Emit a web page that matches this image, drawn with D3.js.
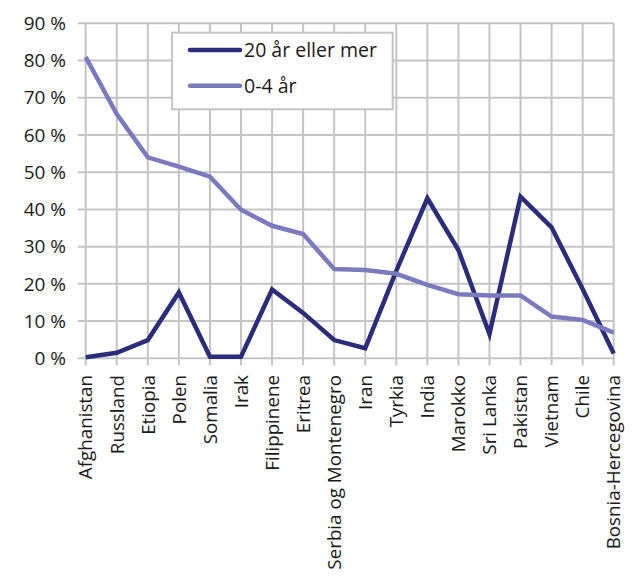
<!DOCTYPE html>
<html>
<head>
<meta charset="utf-8">
<script src="https://cdn.jsdelivr.net/npm/d3@7"></script>
<style>
  body { margin: 0; background: #fff; }
  text { font-family: "Open Sans", "Noto Sans", sans-serif; fill: #1a1a1a; }
</style>
</head>
<body>
<svg id="chart" width="634" height="583"></svg>
<script>
const countries = ["Afghanistan","Russland","Etiopia","Polen","Somalia","Irak","Filippinene","Eritrea",
  "Serbia og Montenegro","Iran","Tyrkia","India","Marokko","Sri Lanka","Pakistan","Vietnam","Chile","Bosnia-Hercegovina"];
const adults = [0.3, 1.5, 4.9, 17.7, 0.4, 0.4, 18.5, 12.2, 4.9, 2.7, 23.5, 43.0, 29.1, 6.5, 43.4, 35.2, 18.6, 1.3];
const kids   = [80.9, 65.6, 54.0, 51.5, 48.8, 39.9, 35.6, 33.4, 24.0, 23.7, 22.7, 19.7, 17.2, 16.9, 16.9, 11.2, 10.3, 6.9];
const yTicks = [0, 10, 20, 30, 40, 50, 60, 70, 80, 90];
const seriesNames = ["20 år eller mer", "0-4 år"];
const seriesColors = ["#2b2d7a", "#7a7bbd"];

const svg = d3.select("#chart");
const plotL = 85.7, plotR = 613.7, plotT = 23.3, plotB = 358.3;

const x = d3.scalePoint().domain(countries).range([plotL, plotR]);
const y = d3.scaleLinear().domain([0, 90]).range([plotB, plotT]);

// grid
const grid = svg.append("g").attr("stroke", "#c4c4c4").attr("stroke-width", 2);
grid.selectAll("line.h").data(yTicks).join("line").attr("class", "h")
  .attr("x1", plotL - 8).attr("x2", plotR)
  .attr("y1", d => y(d)).attr("y2", d => y(d));
grid.selectAll("line.v").data(countries).join("line").attr("class", "v")
  .attr("x1", d => x(d)).attr("x2", d => x(d))
  .attr("y1", plotT).attr("y2", plotB + 7);

// y labels
svg.append("g").selectAll("text").data(yTicks).join("text")
  .attr("x", 66).attr("y", d => y(d)).attr("dy", "0.35em")
  .attr("text-anchor", "end").attr("font-size", 19)
  .text(d => d + " %");

// x labels
svg.append("g").selectAll("text").data(countries).join("text")
  .attr("transform", d => `translate(${x(d)},375) rotate(-90)`)
  .attr("dy", "0.36em").attr("text-anchor", "end").attr("font-size", 18.8)
  .text(d => d);

// lines
const line = d3.line().x((d, i) => x(countries[i])).y(d => y(d));
[adults, kids].forEach((vals, i) => {
  svg.append("path").datum(vals)
    .attr("fill", "none").attr("stroke", seriesColors[i])
    .attr("stroke-width", 4.5).attr("stroke-linejoin", "miter")
    .attr("d", line);
});

// legend
const lg = svg.append("g");
lg.append("rect").attr("x", 172).attr("y", 32.7).attr("width", 220.7).attr("height", 76.6)
  .attr("fill", "#fff").attr("stroke", "#c4c4c4").attr("stroke-width", 2);
seriesNames.forEach((name, i) => {
  const ly = 50 + i * 35.7;
  lg.append("line").attr("x1", 190).attr("x2", 240).attr("y1", ly).attr("y2", ly)
    .attr("stroke", seriesColors[i]).attr("stroke-width", 4.5).attr("stroke-linecap", "round");
  lg.append("text").attr("x", 244).attr("y", ly).attr("dy", "0.35em")
    .attr("font-size", 19.5).text(name);
});
</script>
</body>
</html>
